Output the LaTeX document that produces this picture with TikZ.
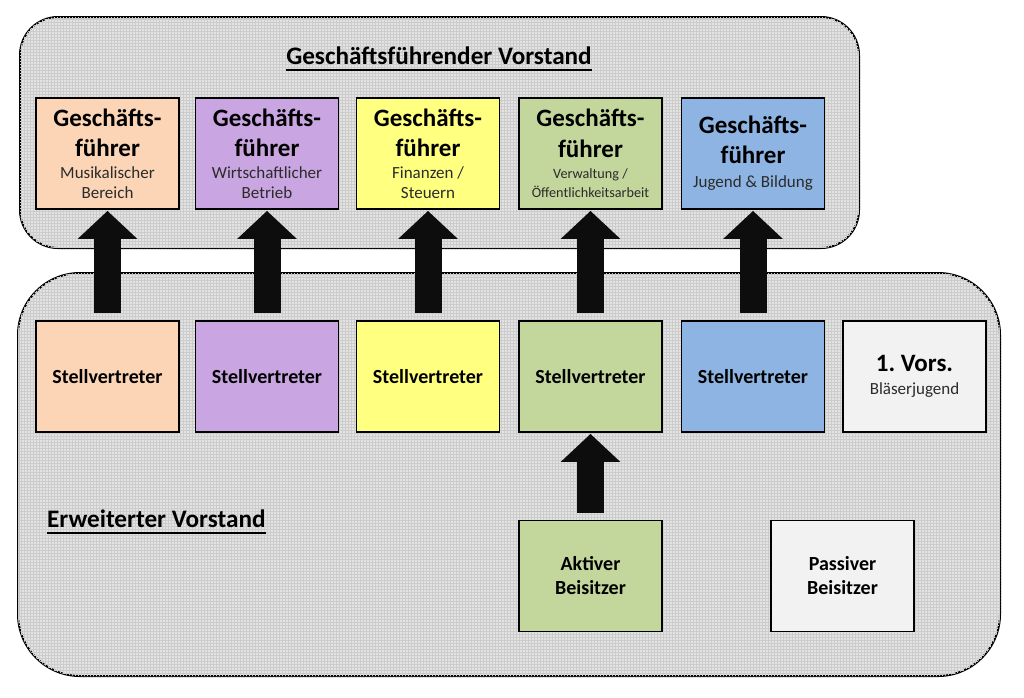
\documentclass[tikz,border=0pt]{standalone}
\usepackage{fontspec}
\setmainfont{Carlito}
\frenchspacing
\usetikzlibrary{arrows.meta,patterns}
\definecolor{cOrange}{HTML}{FBD5B5}
\definecolor{cPurple}{HTML}{C9A5E1}
\definecolor{cYellow}{HTML}{FFFF80}
\definecolor{cGreen}{HTML}{C3D69B}
\definecolor{cBlue}{HTML}{8DB4E2}
\definecolor{cGray}{HTML}{F2F2F2}
\definecolor{cPanel}{HTML}{E3E3E3}
\definecolor{cGrid}{HTML}{CCCCCC}
\definecolor{cSub}{HTML}{2B2B2B}
\newcommand{\bigb}{\bfseries\fontsize{25}{29}\selectfont}
\newcommand{\midb}{\bfseries\fontsize{20}{24}\selectfont}
\newcommand{\subt}{\color{cSub}\mdseries\fontsize{17}{20}\selectfont}
\newcommand{\subs}{\color{cSub}\mdseries\fontsize{14.2}{16}\selectfont}
\tikzset{
  panel/.style={draw=black, line width=2pt, fill=cPanel,
    postaction={pattern=grid, pattern color=cGrid}},
  box/.style={draw=black, line width=1.8pt, minimum width=143pt, minimum height=111pt,
    inner sep=0pt, align=center, font=\fontsize{16}{20}\selectfont, text=black},
  blockarrow/.style={draw=black!95, line width=27pt,
    -{Triangle[length=28pt,width=58pt]}, shorten <=7pt, shorten >=1pt},
  titletext/.style={inner sep=0pt, font=\bfseries\fontsize{25.2}{29}\selectfont},
  uline/.style={line width=1.8pt}
}
\begin{document}
\begin{tikzpicture}[x=1pt,y=-1pt]
\useasboundingbox (0,0) rectangle (1024,697);
% panels
\path[panel, rounded corners=38pt] (20,17) rectangle (859,248);
\path[panel, rounded corners=62pt] (18,273) rectangle (1000,676);

% titles
\node[titletext, anchor=base] (t1) at (439,64) {Geschäftsführender Vorstand};
\draw[uline] ([yshift=-6pt]t1.base west) -- ([yshift=-6pt]t1.base east);
\node[titletext, anchor=base west] (t2) at (47,527) {Erweiterter Vorstand};
\draw[uline] ([yshift=-6pt]t2.base west) -- ([yshift=-6pt]t2.base east);

% Geschaeftsfuehrer row
\node[box, fill=cOrange] (gf1) at (107.5,153.5)
  {\bigb Geschäfts-\\[10pt]\bigb führer\\[2pt]\subt Musikalischer\\\subt Bereich};
\node[box, fill=cPurple] (gf2) at (267,153.5)
  {\bigb Geschäfts-\\[10pt]\bigb führer\\[2pt]\subt Wirtschaftlicher\\\subt Betrieb};
\node[box, fill=cYellow] (gf3) at (428,153.5)
  {\bigb Geschäfts-\\[10pt]\bigb führer\\[2pt]\subt Finanzen /\\\subt Steuern};
\node[box, fill=cGreen] (gf4) at (590.5,153.5)
  {\bigb Geschäfts-\\[11pt]\bigb führer\\[1pt]\subs Verwaltung /\\[-1pt]\subs Öffentlichkeitsarbeit};
\node[box, fill=cBlue] (gf5) at (753,153.5)
  {\bigb Geschäfts-\\[10pt]\bigb führer\\[4pt]\subt Jugend \& Bildung};

% Stellvertreter row
\node[box, fill=cOrange] (sv1) at (107.5,376.5) {\midb Stellvertreter};
\node[box, fill=cPurple] (sv2) at (267,376.5) {\midb Stellvertreter};
\node[box, fill=cYellow] (sv3) at (428,376.5) {\midb Stellvertreter};
\node[box, fill=cGreen] (sv4) at (590.5,376.5) {\midb Stellvertreter};
\node[box, fill=cBlue] (sv5) at (753,376.5) {\midb Stellvertreter};
\node[box, fill=cGray] (bj) at (914.5,376.5) {\bigb 1. Vors.\\[3pt]\subt Bläserjugend};

% Beisitzer
\node[box, fill=cGreen] (ab) at (590.5,576) {\midb Aktiver\\[4pt]\midb Beisitzer};
\node[box, fill=cGray] (pb) at (842.5,576) {\midb Passiver\\[4pt]\midb Beisitzer};

% arrows
\draw[blockarrow] (sv1.north) -- (gf1.south);
\draw[blockarrow] (sv2.north) -- (gf2.south);
\draw[blockarrow] (sv3.north) -- (gf3.south);
\draw[blockarrow] (sv4.north) -- (gf4.south);
\draw[blockarrow] (sv5.north) -- (gf5.south);
\draw[blockarrow] (ab.north) -- (sv4.south);
\end{tikzpicture}
\end{document}
